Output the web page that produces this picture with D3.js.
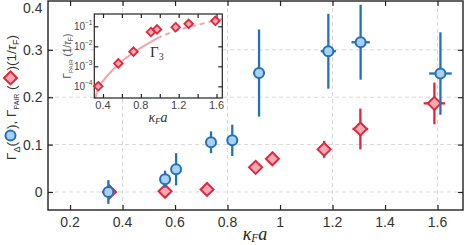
<!DOCTYPE html>
<html>
<head>
<meta charset="utf-8">
<script src="https://cdn.jsdelivr.net/npm/d3@7"></script>
<style>
	body { margin: 0; background: #fff; }
	svg { display: block; }
	text { font-family: 'Liberation Sans', Arial, sans-serif; }
</style>
</head>
<body>
<svg id="chart" width="468" height="245"></svg>
<script>
// Γ_Δ (blue circles): kF*a, rate (1/τF), x error, y error
const kaDelta = [0.346, 0.562, 0.604, 0.737, 0.818, 0.92, 1.184, 1.307, 1.611]
const gDelta = [0.000, 0.027, 0.048, 0.105, 0.109, 0.251, 0.297, 0.316, 0.250]
const kaDeltaErr = [0.015, 0.012, 0.012, 0.012, 0.012, 0.022, 0.029, 0.035, 0.043]
const gDeltaErr = [0.025, 0.018, 0.034, 0.023, 0.033, 0.092, 0.079, 0.079, 0.087]

// Γ_PAIR (red diamonds)
const kaPair = [0.350, 0.562, 0.722, 0.907, 0.971, 1.168, 1.306, 1.588]
const gPair = [0.0001, 0.0014, 0.0054, 0.052, 0.070, 0.090, 0.133, 0.187]
const kaPairErr = [0.027, 0, 0, 0, 0, 0.023, 0.030, 0.041]
const gPairErr = [0, 0, 0, 0, 0, 0.018, 0.043, 0.044]

// inset theory curve Γ3 as log10 values
const kaG3 = [0.315, 0.358, 0.569, 0.731, 0.915, 1.055, 1.267, 1.407, 1.619, 1.66]
const logG3 = [-4.67, -4.03, -2.87, -2.29, -1.75, -1.42, -1.085, -0.92, -0.67, -0.63]
const g3DashFrom = 1.0

const xTicks = [0.2, 0.4, 0.6, 0.8, 1.0, 1.2, 1.4, 1.6]
const xTickLabels = ['0.2', '0.4', '0.6', '0.8', '1', '1.2', '1.4', '1.6']
const yTicks = [0, 0.1, 0.2, 0.3, 0.4]
const yTickLabels = ['0', '0.1', '0.2', '0.3', '0.4']
const xGrid = [0.4, 0.8, 1.2, 1.6]
const yGrid = [0, 0.1, 0.2, 0.3]
const insetXTicks = [0.4, 0.6, 0.8, 1.0, 1.2, 1.4, 1.6]
const insetXLabels = [0.4, 0.8, 1.2, 1.6]
const insetYExp = [-1, -2, -3, -4]

const blue = '#2272b4', blueFill = '#a9cff2'
const red = '#e3263a', redFill = '#f4a9b3'
const curveCol = '#f5a3ab'

const svg = d3.select('#chart')
const box = { left: 48, right: 463, top: 1, bottom: 210 }

let x = d3.scaleLinear().domain([0.116, 1.697]).range([box.left, box.right])
let y = d3.scaleLinear().domain([-0.038, 0.403]).range([box.bottom, box.top])

// grid
svg.append('g').selectAll('line').data(yGrid).join('line')
	.attr('x1', box.left).attr('x2', box.right)
	.attr('y1', d => y(d)).attr('y2', d => y(d))
	.attr('stroke', '#d8d8d8').attr('stroke-dasharray', '4,3')
svg.append('g').selectAll('line').data(xGrid).join('line')
	.attr('x1', d => x(d)).attr('x2', d => x(d))
	.attr('y1', box.top).attr('y2', box.bottom)
	.attr('stroke', '#d8d8d8').attr('stroke-dasharray', '4,3')

// axes with inward ticks on all four sides
function frameAxes(g, xs, ys, xt, yt, len, lw) {
	const [x0, x1] = xs.range(), [y0, y1] = ys.range()
	g.append('g').attr('transform', `translate(0,${y0})`)
		.call(d3.axisBottom(xs).tickValues(xt).tickSize(-len).tickFormat(''))
	g.append('g').attr('transform', `translate(0,${y1})`)
		.call(d3.axisTop(xs).tickValues(xt).tickSize(-len).tickFormat(''))
	g.append('g').attr('transform', `translate(${x0},0)`)
		.call(d3.axisLeft(ys).tickValues(yt).tickSize(-len).tickFormat(''))
	g.append('g').attr('transform', `translate(${x1},0)`)
		.call(d3.axisRight(ys).tickValues(yt).tickSize(-len).tickFormat(''))
	g.selectAll('.domain').remove()
	g.selectAll('.tick line').attr('stroke', '#222').attr('stroke-width', 1.2)
	g.append('rect').attr('x', x0).attr('y', y1).attr('width', x1 - x0).attr('height', y0 - y1)
		.attr('fill', 'none').attr('stroke', '#222').attr('stroke-width', lw)
}

const main = svg.append('g')
frameAxes(main, x, y, xTicks, yTicks.slice(0, 4), 5, 1.4)

main.append('g').selectAll('text').data(xTicks).join('text')
	.attr('x', d => x(d)).attr('y', 226.5)
	.attr('text-anchor', 'middle').attr('font-size', 14).attr('fill', '#333')
	.text((d, i) => xTickLabels[i])
main.append('g').selectAll('text').data(yTicks).join('text')
	.attr('x', 42.5).attr('y', d => Math.max(y(d) + 5, 12.5))
	.attr('text-anchor', 'end').attr('font-size', 14).attr('fill', '#333')
	.text((d, i) => yTickLabels[i])

// x title κ_F a
const xt = main.append('text').attr('x', 255).attr('y', 239.5)
	.attr('text-anchor', 'middle').attr('fill', '#222')
	.style('font-family', "'Liberation Serif', serif").style('font-style', 'italic')
	.attr('font-size', 18)
xt.append('tspan').text('κ')
xt.append('tspan').attr('font-size', 11.5).attr('dy', 2.5).text('F')
xt.append('tspan').attr('dy', -2.5).text('a')

// markers
function errorBars(g, xs, ys, color) {
	return function (kx, v, ex, ev) {
		const bars = g.append('g').attr('stroke', color).attr('stroke-width', 2.3)
		bars.selectAll('.v').data(kx).join('line')
			.attr('x1', d => xs(d)).attr('x2', d => xs(d))
			.attr('y1', (d, i) => ys(v[i] - ev[i])).attr('y2', (d, i) => ys(v[i] + ev[i]))
		bars.selectAll('.h').data(kx).join('line')
			.attr('x1', (d, i) => xs(d - ex[i])).attr('x2', (d, i) => xs(d + ex[i]))
			.attr('y1', (d, i) => ys(v[i])).attr('y2', (d, i) => ys(v[i]))
	}
}
const diamond = s => `M0,${-s}L${s},0L0,${s}L${-s},0Z`

errorBars(main, x, y, red)(kaPair, gPair, kaPairErr, gPairErr)
main.append('g').selectAll('path').data(kaPair).join('path')
	.attr('d', diamond(6.5))
	.attr('transform', (d, i) => `translate(${x(d)},${y(gPair[i])})`)
	.attr('fill', redFill).attr('stroke', red).attr('stroke-width', 2)

errorBars(main, x, y, blue)(kaDelta, gDelta, kaDeltaErr, gDeltaErr)
main.append('g').selectAll('circle').data(kaDelta).join('circle')
	.attr('cx', d => x(d)).attr('cy', (d, i) => y(gDelta[i])).attr('r', 5)
	.attr('fill', blueFill).attr('stroke', blue).attr('stroke-width', 2)

// y title: Γ_Δ(○), Γ_PAIR (◇)(1/τ_F)
const ytg = svg.append('g').attr('transform', 'translate(15.5,97.5) rotate(-90)')
const yti = ytg.append('g')
let cx = 0
function piece(parts) {
	const t = yti.append('text').attr('x', cx).attr('y', 0)
		.attr('font-size', 13.5).attr('fill', '#333')
	parts.forEach(p => {
		const s = t.append('tspan').text(p.t)
		if (p.size) s.attr('font-size', p.size)
		if (p.dy) s.attr('dy', p.dy)
		if (p.it) s.style('font-style', 'italic')
	})
	cx += t.node().getComputedTextLength()
}
piece([{ t: 'Γ' }, { t: 'Δ', size: 9, dy: 4 }, { t: '(', dy: -4 }])
yti.append('circle').attr('cx', cx + 6.5).attr('cy', -5).attr('r', 5)
	.attr('fill', blueFill).attr('stroke', blue).attr('stroke-width', 2)
cx += 13
piece([{ t: '), Γ' }, { t: 'PAIR', size: 7, dy: 3 }, { t: ' (', dy: -3 }])
yti.append('path').attr('d', diamond(6.5)).attr('transform', `translate(${cx + 7.5},-5)`)
	.attr('fill', redFill).attr('stroke', red).attr('stroke-width', 2)
cx += 15
piece([{ t: ')(1/' }, { t: 'τ', it: true }, { t: 'F', size: 9, dy: 3 }, { t: ')', dy: -3 }])
yti.attr('transform', `translate(${-cx / 2},0)`)

// inset
const ib = { left: 94.3, right: 222.3, top: 14, bottom: 98 }
let xi = d3.scaleLinear().domain([0.308, 1.661]).range([ib.left, ib.right])
let yi = d3.scaleLog().domain([Math.pow(10, -4.585), Math.pow(10, -0.385)]).range([ib.bottom, ib.top])
const inset = svg.append('g')
inset.append('rect').attr('x', ib.left).attr('y', ib.top)
	.attr('width', ib.right - ib.left).attr('height', ib.bottom - ib.top).attr('fill', '#fff')

svg.append('clipPath').attr('id', 'solid').append('rect')
	.attr('x', ib.left).attr('y', ib.top).attr('width', xi(g3DashFrom) - ib.left).attr('height', ib.bottom - ib.top)
svg.append('clipPath').attr('id', 'dash').append('rect')
	.attr('x', xi(g3DashFrom)).attr('y', ib.top).attr('width', ib.right - xi(g3DashFrom)).attr('height', ib.bottom - ib.top)
const g3line = d3.line().x(d => xi(d)).y((d, i) => yi(Math.pow(10, logG3[i]))).curve(d3.curveCatmullRom)
inset.append('path').attr('d', g3line(kaG3)).attr('clip-path', 'url(#solid)')
	.attr('fill', 'none').attr('stroke', curveCol).attr('stroke-width', 2)
inset.append('path').attr('d', g3line(kaG3)).attr('clip-path', 'url(#dash)')
	.attr('fill', 'none').attr('stroke', curveCol).attr('stroke-width', 2).attr('stroke-dasharray', '5,4')

frameAxes(inset, xi, yi, insetXTicks, insetYExp.map(e => Math.pow(10, e)), 4, 1.2)

inset.append('g').selectAll('path').data(kaPair).join('path')
	.attr('d', diamond(4.3))
	.attr('transform', (d, i) => `translate(${xi(d)},${yi(gPair[i])})`)
	.attr('fill', redFill).attr('stroke', red).attr('stroke-width', 1.8)

inset.append('g').selectAll('text').data(insetXLabels).join('text')
	.attr('x', d => xi(d)).attr('y', 108.5)
	.attr('text-anchor', 'middle').attr('font-size', 11).attr('fill', '#444')
	.text(d => d.toFixed(1))
const ylab = inset.append('g').selectAll('text').data(insetYExp).join('text')
	.attr('x', 92.5).attr('y', d => yi(Math.pow(10, d)) + 4)
	.attr('text-anchor', 'end').attr('font-size', 10).attr('fill', '#444')
ylab.append('tspan').text('10')
ylab.append('tspan').attr('font-size', 6.5).attr('dy', -5).text(d => '−' + (-d))

const ixt = inset.append('text').attr('x', 158).attr('y', 121.5)
	.attr('text-anchor', 'middle').attr('fill', '#333')
	.style('font-family', "'Liberation Serif', serif").style('font-style', 'italic')
	.attr('font-size', 14)
ixt.append('tspan').text('κ')
ixt.append('tspan').attr('font-size', 9).attr('dy', 2.5).text('F')
ixt.append('tspan').attr('dy', -2.5).text('a')

const iyt = inset.append('text').attr('transform', 'translate(70.5,56) rotate(-90)')
	.attr('text-anchor', 'middle').attr('font-size', 10).attr('fill', '#555')
iyt.append('tspan').text('Γ')
iyt.append('tspan').attr('font-size', 6).attr('dy', 2.5).text('PAIR')
iyt.append('tspan').attr('dy', -2.5).text(' (1/')
iyt.append('tspan').style('font-style', 'italic').text('τ')
iyt.append('tspan').attr('font-size', 7).attr('dy', 2.5).text('F')
iyt.append('tspan').attr('dy', -2.5).text(')')

const g3t = inset.append('text').attr('x', 150).attr('y', 57)
	.style('font-family', "'Liberation Serif', serif").attr('font-size', 15).attr('fill', '#333')
g3t.append('tspan').text('Γ')
g3t.append('tspan').attr('font-size', 10).attr('dy', 3).text('3')
</script>
</body>
</html>
